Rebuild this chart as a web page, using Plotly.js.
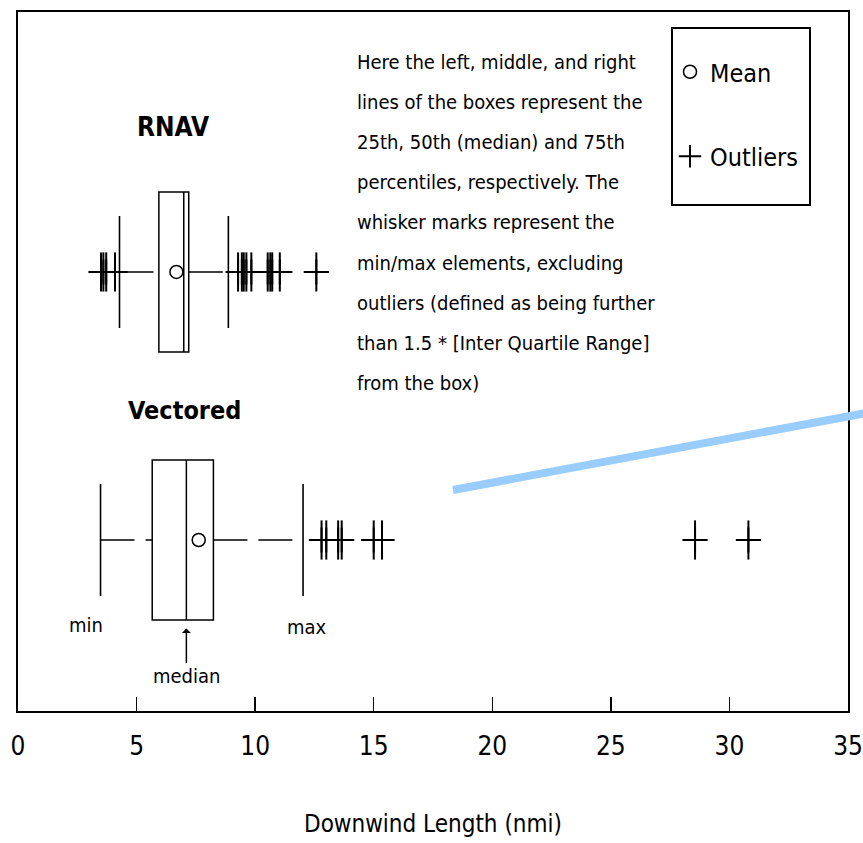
<!DOCTYPE html>
<html>
<head>
<meta charset="utf-8">
<script src="https://cdn.plot.ly/plotly-3.0.1.min.js"></script>
<style>html,body{margin:0;padding:0;background:#fff;}#chart{width:863px;height:843px;}</style>
</head>
<body>
<div id="chart"></div>
<script>
// ---- data ----
const categories = ['RNAV', 'Vectored'];
const q1 = [5.94, 5.66];
const medians = [6.99, 7.10];
const q3 = [7.20, 8.24];
const lowerWhisker = [4.28, 3.48];
const upperWhisker = [8.87, 12.02];
const means = [6.68, 7.62];
const rnavOutliers = [3.50, 3.60, 3.72, 4.09, 9.28, 9.44, 9.52, 9.63, 9.84, 10.53, 10.64, 10.72, 11.04, 12.58];
const vectoredOutliers = [12.80, 13.00, 13.50, 13.65, 15.00, 15.35, 28.55, 30.80];
const tickValues = [0, 5, 10, 15, 20, 25, 30, 35];
const noteLines = [
  'Here the left, middle, and right',
  'lines of the boxes represent the',
  '25th, 50th (median) and 75th',
  'percentiles, respectively. The',
  'whisker marks represent the',
  'min/max elements, excluding',
  'outliers (defined as being further',
  'than 1.5 * [Inter Quartile Range]',
  'from the box)'
];

// ---- styling ----
const FONT = '"DejaVu Sans Condensed", "Liberation Sans Narrow", "DejaVu Sans", sans-serif';
const BLACK = '#000000';

// whisker segments: cap -> box, box -> cap (so the dash pattern starts at the left end)
const wx = [], wy = [];
categories.forEach((c, i) => {
  wx.push(lowerWhisker[i], q1[i], null, q3[i], upperWhisker[i], null);
  wy.push(c, c, null, c, c, null);
});
const outX = rnavOutliers.concat(vectoredOutliers);
const outY = rnavOutliers.map(() => categories[0]).concat(vectoredOutliers.map(() => categories[1]));

const traces = [
  {
    type: 'box', orientation: 'h', y: categories,
    q1: q1, median: medians, q3: q3, lowerfence: q1, upperfence: q3,
    width: 0.597, whiskerwidth: 0, boxpoints: false,
    line: {color: BLACK, width: 1.5}, fillcolor: 'rgba(0,0,0,0)',
    showlegend: false, hoverinfo: 'skip'
  },
  {
    type: 'scatter', mode: 'lines', x: wx, y: wy, connectgaps: false,
    line: {color: BLACK, width: 1.5, dash: '34px,11px'},
    showlegend: false, hoverinfo: 'skip'
  },
  {
    type: 'scatter', mode: 'markers',
    x: lowerWhisker.concat(upperWhisker), y: categories.concat(categories),
    marker: {symbol: 'line-ns-open', size: 80, color: BLACK, line: {color: BLACK, width: 1.6}},
    showlegend: false, hoverinfo: 'skip'
  },
  {
    type: 'scatter', mode: 'markers', name: 'Mean', legendgroup: 'mean',
    x: means, y: categories,
    marker: {symbol: 'circle-open', size: 13, color: BLACK, line: {color: BLACK, width: 1.5}}
  },
  {
    type: 'scatter', mode: 'markers', name: 'Outliers', legendgroup: 'out',
    x: outX, y: outY,
    marker: {symbol: 'cross-thin-open', size: 18, color: BLACK, line: {color: BLACK, width: 2}}
  },
  {
    type: 'scatter', mode: 'markers', legendgroup: 'out', showlegend: false,
    x: outX, y: outY,
    marker: {symbol: 'line-ns-open', size: 28, color: BLACK, line: {color: BLACK, width: 2}},
    hoverinfo: 'skip'
  }
];

const L = 18, R = 15, T = 12, B = 132, W = 863, H = 843;
const pw = W - L - R, ph = H - T - B;
const px2x = p => (p - L) / pw;
const px2y = p => (H - B - p) / ph;

const annotations = noteLines.map((t, i) => ({
  xref: 'paper', yref: 'paper', x: px2x(355), y: px2y(62 + 40.1 * i),
  xanchor: 'left', yanchor: 'middle', align: 'left', showarrow: false,
  text: t, font: {family: FONT, size: 20, color: BLACK}
}));
annotations.push(
  {xref: 'x', yref: 'y', x: 6.54, y: 1.541, text: '<b>RNAV</b>', showarrow: false,
   font: {family: FONT, size: 26, color: BLACK}},
  {xref: 'x', yref: 'y', x: 7.04, y: 0.485, text: '<b>Vectored</b>', showarrow: false,
   font: {family: FONT, size: 25, color: BLACK}},
  {xref: 'x', yref: 'y', x: 2.87, y: -0.317, text: 'min', showarrow: false,
   font: {family: FONT, size: 20, color: BLACK}},
  {xref: 'x', yref: 'y', x: 12.19, y: -0.325, text: 'max', showarrow: false,
   font: {family: FONT, size: 20, color: BLACK}},
  {xref: 'x', yref: 'y', x: 7.10, y: -0.33, ax: 0, ay: 48, axref: 'pixel', ayref: 'pixel',
   text: 'median', showarrow: true, arrowhead: 1, arrowsize: 1, arrowwidth: 1.5, arrowcolor: BLACK,
   font: {family: FONT, size: 20, color: BLACK}}
);

const layout = {
  width: W, height: H,
  margin: {l: L, r: R, t: T, b: B, pad: 0},
  paper_bgcolor: '#ffffff', plot_bgcolor: '#ffffff',
  font: {family: FONT, color: BLACK},
  xaxis: {
    range: [0, 35], tickvals: tickValues, ticktext: tickValues.map(String),
    ticks: 'inside', ticklen: 14, tickwidth: 1.5, tickcolor: BLACK,
    showline: true, mirror: true, linewidth: 2, linecolor: BLACK,
    showgrid: false, zeroline: false, ticklabelstandoff: 11, ticklabeloverflow: 'allow',
    tickfont: {family: FONT, size: 26, color: BLACK},
    title: {text: 'Downwind Length (nmi)', font: {family: FONT, size: 24, color: BLACK}, standoff: 55}
  },
  yaxis: {
    type: 'category', categoryorder: 'array', categoryarray: ['Vectored', 'RNAV'],
    range: [-0.638, 1.970], showticklabels: false, ticks: '',
    showline: true, mirror: true, linewidth: 2, linecolor: BLACK,
    showgrid: false, zeroline: false
  },
  showlegend: true,
  legend: {
    x: px2x(670), y: px2y(49), xanchor: 'left', yanchor: 'top',
    bgcolor: 'rgba(0,0,0,0)', borderwidth: 0,
    traceorder: 'grouped', tracegroupgap: 49,
    font: {family: FONT, size: 25, color: BLACK}
  },
  shapes: [
    {type: 'rect', xref: 'paper', yref: 'paper',
     x0: px2x(672), x1: px2x(810), y0: px2y(205), y1: px2y(28),
     line: {color: BLACK, width: 2}, fillcolor: 'rgba(0,0,0,0)'},
    {type: 'line', xref: 'paper', yref: 'paper', layer: 'above',
     x0: px2x(453), y0: px2y(490), x1: px2x(866), y1: px2y(413),
     line: {color: '#99ccff', width: 8}}
  ],
  annotations: annotations
};

Plotly.newPlot('chart', traces, layout, {displayModeBar: false, staticPlot: true});
</script>
</body>
</html>
